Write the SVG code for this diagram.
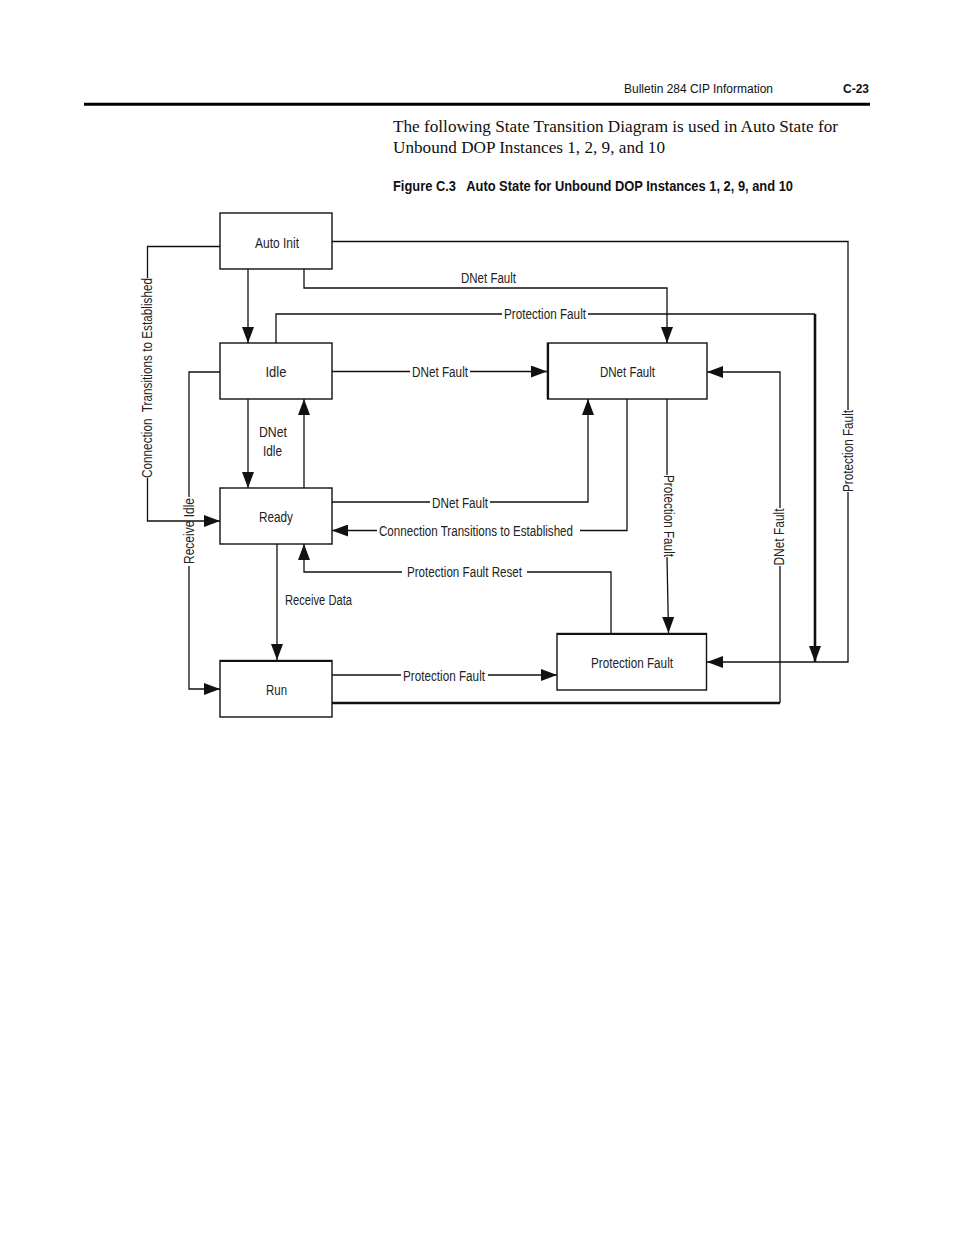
<svg xmlns="http://www.w3.org/2000/svg" width="954" height="1235" viewBox="0 0 954 1235">
<defs>
<marker id="ah" markerUnits="userSpaceOnUse" markerWidth="16" markerHeight="12" refX="16" refY="6" orient="auto">
<path d="M0,0 L16,6 L0,12 z" fill="#111"/>
</marker>
<style>
.box{fill:#fff;stroke:#111;stroke-width:1.4}
.ln{fill:none;stroke:#111;stroke-width:1.3}
.thk{fill:none;stroke:#111;stroke-width:2.6}
.t{font-family:"Liberation Sans",Arial,sans-serif;font-size:14px;fill:#222;text-anchor:middle}
.hd{font-family:"Liberation Sans",Arial,sans-serif;font-size:12.5px;fill:#111}
.body{font-family:"Liberation Serif","Times New Roman",serif;font-size:16.5px;fill:#111}
.cap{font-family:"Liberation Sans",Arial,sans-serif;font-size:14px;font-weight:bold;fill:#111}
</style>
</defs>
<rect width="954" height="1235" fill="#fff"/>

<g id="header">
<text class="hd" x="624" y="93" textLength="149" lengthAdjust="spacingAndGlyphs">Bulletin 284 CIP Information</text>
<text class="hd" x="843" y="93" font-weight="bold" textLength="26" lengthAdjust="spacingAndGlyphs">C-23</text>
<line x1="84" y1="104.3" x2="870" y2="104.3" stroke="#000" stroke-width="3"/>
<text class="body" x="393" y="132" textLength="445" lengthAdjust="spacingAndGlyphs">The following State Transition Diagram is used in Auto State for</text>
<text class="body" x="393" y="153" textLength="272" lengthAdjust="spacingAndGlyphs">Unbound DOP Instances 1, 2, 9, and 10</text>
<text class="cap" x="393" y="191" textLength="400" lengthAdjust="spacingAndGlyphs" xml:space="preserve">Figure C.3   Auto State for Unbound DOP Instances 1, 2, 9, and 10</text>
</g>

<g id="connectors">
<path class="ln" d="M248,269 V343" marker-end="url(#ah)"/>
<path class="ln" d="M220,246.5 H147.5 V278 M147.5,478 V521 H220" marker-end="url(#ah)"/>
<path class="ln" d="M332,241.5 H848 V410 M848,492 V662 H707" marker-end="url(#ah)"/>
<path class="ln" d="M304,269 V288 H667 V343" marker-end="url(#ah)"/>
<path class="ln" d="M276,343 V314 H502 M588,314 H815"/>
<path class="thk" d="M815,314 V662" marker-end="url(#ah)"/>
<path class="ln" d="M332,371.5 H410 M470,371.5 H547" marker-end="url(#ah)"/>
<path class="ln" d="M220,372 H189 V497 M189,566 V689 H220" marker-end="url(#ah)"/>
<path class="ln" d="M248,399 V488" marker-end="url(#ah)"/>
<path class="ln" d="M304,488 V399" marker-end="url(#ah)"/>
<path class="ln" d="M332,502 H430 M490,502 H588 V399" marker-end="url(#ah)"/>
<path class="ln" d="M627,399 V530.5 H580 M377,530.5 H332" marker-end="url(#ah)"/>
<path class="ln" d="M611,633 V572 H527 M402,572 H304 V544" marker-end="url(#ah)"/>
<path class="ln" d="M277,544 V660" marker-end="url(#ah)"/>
<path class="ln" d="M332,675 H401 M488,675 H557" marker-end="url(#ah)"/>
<path class="thk" d="M332,703 H780"/>
<path class="ln" d="M780,703 V566 M780,508 V372 H707" marker-end="url(#ah)"/>
<path class="ln" d="M667,399 V475 M667,557 L668.5,633" marker-end="url(#ah)"/>

<text class="t" transform="translate(152,378) rotate(-90)" textLength="200" lengthAdjust="spacingAndGlyphs" xml:space="preserve">Connection  Transitions to Established</text>
<text class="t" transform="translate(194,531) rotate(-90)" textLength="66" lengthAdjust="spacingAndGlyphs">Receive Idle</text>
<text class="t" transform="translate(664,516) rotate(90)" textLength="82" lengthAdjust="spacingAndGlyphs">Protection Fault</text>
<text class="t" transform="translate(784,537) rotate(-90)" textLength="57" lengthAdjust="spacingAndGlyphs">DNet Fault</text>
<text class="t" transform="translate(853,451) rotate(-90)" textLength="82" lengthAdjust="spacingAndGlyphs">Protection Fault</text>
<text class="t" x="488.5" y="283" textLength="55" lengthAdjust="spacingAndGlyphs">DNet Fault</text>
<text class="t" x="545" y="319" textLength="82" lengthAdjust="spacingAndGlyphs">Protection Fault</text>
<text class="t" x="440" y="376.5" textLength="56" lengthAdjust="spacingAndGlyphs">DNet Fault</text>
<text class="t" x="273" y="437" textLength="28" lengthAdjust="spacingAndGlyphs">DNet</text>
<text class="t" x="272.5" y="456" textLength="19" lengthAdjust="spacingAndGlyphs">Idle</text>
<text class="t" x="460" y="507.5" textLength="56" lengthAdjust="spacingAndGlyphs">DNet Fault</text>
<text class="t" x="476" y="536" textLength="194" lengthAdjust="spacingAndGlyphs">Connection Transitions to Established</text>
<text class="t" x="464.5" y="577" textLength="115" lengthAdjust="spacingAndGlyphs">Protection Fault Reset</text>
<text class="t" x="318.5" y="605" textLength="67" lengthAdjust="spacingAndGlyphs">Receive Data</text>
<text class="t" x="444" y="680.5" textLength="82" lengthAdjust="spacingAndGlyphs">Protection Fault</text>
</g>

<g id="auto-init">
<rect class="box" x="220" y="213" width="112" height="56"/>
<text class="t" x="277" y="247.5" textLength="44" lengthAdjust="spacingAndGlyphs">Auto Init</text>
</g>
<g id="idle">
<rect class="box" x="220" y="343" width="112" height="56"/>
<text class="t" x="276" y="376.5" textLength="21" lengthAdjust="spacingAndGlyphs">Idle</text>
</g>
<g id="ready">
<rect class="box" x="220" y="488" width="112" height="56"/>
<text class="t" x="276" y="522" textLength="34" lengthAdjust="spacingAndGlyphs">Ready</text>
</g>
<g id="run">
<rect class="box" x="220" y="660.5" width="112" height="56.5"/>
<line x1="220" y1="661" x2="332" y2="661" stroke="#111" stroke-width="2"/>
<text class="t" x="276.5" y="695" textLength="21" lengthAdjust="spacingAndGlyphs">Run</text>
</g>
<g id="dnet-fault">
<rect class="box" x="547.5" y="343" width="159.5" height="56"/>
<line x1="548" y1="343" x2="548" y2="399" stroke="#111" stroke-width="2.2"/>
<text class="t" x="627.5" y="376.5" textLength="55" lengthAdjust="spacingAndGlyphs">DNet Fault</text>
</g>
<g id="protection-fault">
<rect class="box" x="557" y="633.5" width="149.5" height="56.5"/>
<line x1="557" y1="634" x2="706.5" y2="634" stroke="#111" stroke-width="2"/>
<text class="t" x="632" y="667.5" textLength="82" lengthAdjust="spacingAndGlyphs">Protection Fault</text>
</g>
</svg>
